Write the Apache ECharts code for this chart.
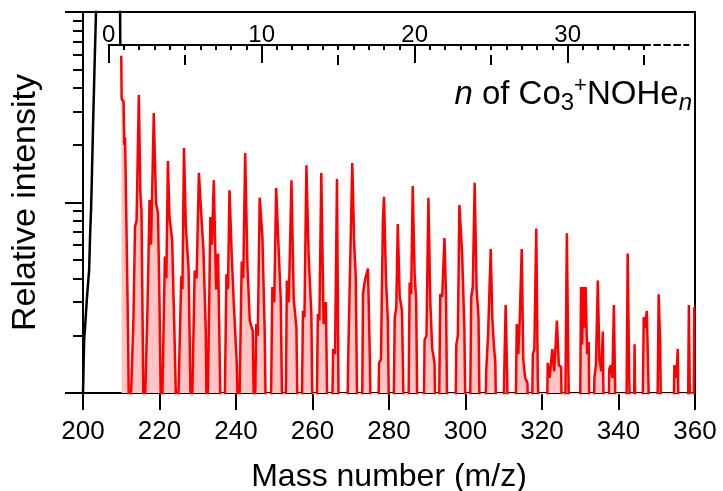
<!DOCTYPE html>
<html><head><meta charset="utf-8">
<script src="https://cdn.jsdelivr.net/npm/echarts@6/dist/echarts.min.js"></script>
<style>html,body{margin:0;padding:0;background:#fff}#c{width:723px;height:491px}</style>
</head><body><div id="c"></div>
<script>
// ---- data ----
const massRange = [200, 360];
const massTickStep = 20;
const intensityRange = [1, 100];
const intensityMajorTicks = [1, 10, 100];
const intensityMinorTicks = [2, 3, 4, 5, 6, 7, 8, 9, 20, 30, 40, 50, 60, 70, 80, 90];
const nRange = [0, 35];
const nMajorTicks = [0, 10, 20, 30];
const nMidTicks = [5, 15, 25, 35];
const nDashedEnd = 37.9;
const n0Mass = 206.7;   // Co3+NO
const heMass = 4;

// black part of the spectrum (m/z, intensity)
const blackSpectrum = [
  [200.0,1],[200.3,1.9],[200.6,2.3],[201.0,3.1],[201.3,3.7],[201.6,4.4],[201.9,7.2],[202.1,9.1],
  [202.3,13],[202.6,24],[203.0,50],[203.4,100],[203.6,200],[209.6,200],[209.75,68]
];
// red part of the spectrum (m/z, intensity)
const redSpectrum = [
  [210.0,59],[210.1,35],[210.6,34],[210.8,20],[211.0,22],[211.2,12],[211.5,5],[211.8,1.9],[212.1,0.5],
  [212.6,0.5],[213.2,2.5],[213.6,7.5],[214.0,8],[214.6,36.7],[215.0,11.2],[215.3,9],[215.6,2.2],[215.9,0.5],
  [216.4,0.5],[216.9,3],[217.4,10.3],[217.8,6],[218.5,29.5],[219.1,9.9],[219.6,8.8],[220.0,3],[220.5,0.5],
  [220.8,0.5],[221.4,5.2],[221.8,4],[222.2,16.5],[222.6,8.4],[223.3,6.4],[223.9,2.1],[224.6,0.5],
  [225.0,0.5],[225.7,4.1],[226.0,3.5],[226.4,19.3],[226.9,7.4],[227.6,4.5],[227.9,1.9],[228.3,0.5],
  [228.7,0.5],[229.2,4.4],[229.7,4],[230.3,14.3],[230.8,9.5],[231.5,5.6],[232.1,2.1],[232.4,0.5],
  [232.7,0.5],[233.0,3],[233.3,8.4],[233.7,6],[234.2,13.1],[234.8,3.5],[235.3,5.4],[235.8,1.3],[236.1,0.5],
  [236.9,0.5],[237.5,4.2],[237.9,3.5],[238.3,11.6],[238.9,5.2],[239.4,3.0],[240.2,1.44],[240.7,0.5],
  [241.0,0.5],[241.5,4.9],[241.9,4],[242.4,18.2],[243.0,4.6],[243.6,2.4],[244.4,2.1],[244.8,0.5],
  [245.0,0.5],[245.3,2.3],[245.7,2],[246.2,10.6],[246.9,6.6],[247.5,2.1],[247.9,0.5],
  [249.0,0.5],[249.5,3.6],[250.0,3],[250.5,11.9],[251.1,6.0],[251.7,3.1],[252.2,0.5],
  [252.9,0.5],[253.3,3.9],[253.8,3],[254.5,13.1],[255.1,3.1],[255.8,2.2],[256.2,0.5],
  [257.1,0.5],[257.5,2.7],[257.9,2.5],[258.4,15.7],[259.0,5.2],[259.7,2.6],[260.1,0.5],
  [261.0,0.5],[261.4,2.6],[261.8,2.4],[262.3,14.3],[262.9,2.3],[263.5,3.0],[264.0,0.5],
  [265.0,0.5],[265.4,1.7],[265.9,1.6],[266.4,13.3],[266.9,0.5],
  [269.0,0.5],[269.3,1.4],[269.8,1.4],[270.4,16.1],[270.9,6],[271.3,4.1],[271.8,0.5],
  [272.9,0.5],[273.2,3.3],[273.6,3.8],[274.1,4.2],[274.5,4.5],[275.0,1.5],[275.3,0.5],
  [277.1,0.5],[277.4,1.44],[277.9,1.5],[278.4,8],[278.7,10.7],[279.2,4],[279.7,2.4],[280.1,0.5],
  [281.1,0.5],[281.5,2.5],[281.9,2.8],[282.3,7.7],[282.8,3.2],[283.4,2.7],[284.0,0.5],
  [285.0,0.5],[285.4,3.8],[285.8,3.3],[286.2,12.2],[286.7,4.2],[287.1,3.1],[287.5,0.5],
  [289.0,0.5],[289.3,1.9],[289.8,2],[290.3,10.6],[290.8,3],[291.3,1.7],[291.9,1.45],[292.2,0.5],
  [293.0,0.5],[293.4,3.3],[293.9,3.2],[294.5,6.5],[294.9,3.3],[295.3,0.5],
  [297.3,0.5],[297.6,1.8],[298.0,2],[298.4,9.7],[299.1,5.5],[299.7,2.2],[300.1,0.5],
  [301.1,0.5],[301.5,3.2],[301.9,3.6],[302.4,12.7],[302.9,3.5],[303.4,2.5],[303.8,0.5],
  [305.1,0.5],[305.4,1.3],[305.9,2],[306.6,5.7],[307.0,2.5],[307.4,1.8],[307.8,1.45],[308.1,0.5],
  [309.8,0.5],[310.2,1.5],[310.5,2.9],[310.9,1.2],[311.2,0.5],
  [313.0,0.5],[313.4,2.3],[313.8,1.6],[314.2,2.5],[314.7,5.7],[315.1,1.5],[315.6,1.2],[316.2,1.13],[316.5,0.5],
  [317.3,0.5],[317.6,1.6],[318.0,1.7],[318.5,7.3],[318.9,1.2],[319.3,0.5],
  [321.2,0.5],[321.5,1.44],[322.0,1.2],[322.7,1.7],[323.2,1.3],[323.9,2.4],[324.4,1.4],[325.0,1.37],[325.3,0.5],
  [326.0,0.5],[326.2,1.5],[326.5,6.9],[326.9,1.3],[327.2,0.5],
  [329.9,0.5],[330.2,3.6],[330.5,1.8],[330.8,3.6],[331.1,2.2],[331.4,3.6],[331.8,1.6],[332.2,1.85],[332.5,0.5],
  [333.4,0.5],[333.7,1.2],[334.1,1.4],[334.6,3.9],[335.0,1.5],[335.5,1.3],[335.9,2.1],[336.2,0.5],
  [337.3,0.5],[337.6,1.34],[338.0,1.4],[338.4,1.2],[338.8,2.9],[339.2,0.8],[339.6,0.5],
  [342.0,0.5],[342.4,5.4],[342.8,1.2],[343.3,0.5],[344.0,0.5],[344.2,1.8],[344.5,0.5],
  [346.2,0.5],[346.6,2.5],[347.0,2.2],[347.4,2.7],[347.8,1.2],[348.2,0.5],
  [350.1,0.5],[350.5,3.3],[350.9,1.8],[351.2,0.5],
  [354.3,0.5],[354.6,1.4],[355.1,1.2],[355.5,1.7],[355.8,0.5],
  [358.1,0.5],[358.4,2.9],[358.8,0.5],[359.6,0.5],[359.8,2.8],[360,2.8]
];

// ---- layout ----
const FONT = '"Liberation Sans", Arial, sans-serif';
const W = 723, H = 491;
const GL = 83, GR = 28, GT = 12, GB = 98;
const ppm = (W - GL - GR) / (massRange[1] - massRange[0]);
const nAxisTop = 45;
const nLeft = GL + (n0Mass - massRange[0]) * ppm;
const nWidth = (nRange[1] - nRange[0]) * heMass * ppm;
const dashLeft = nLeft + nWidth;
const dashWidth = (nDashedEnd - nRange[1]) * heMass * ppm;

const black = { color: '#000', width: 2 };
const chart = echarts.init(document.getElementById('c'), null, { renderer: 'canvas' });

const txt = (extra) => Object.assign({ fontFamily: FONT, color: '#000', fontWeight: 'normal' }, extra);

chart.setOption({
  animation: false,
  backgroundColor: '#fff',
  textStyle: { fontFamily: FONT, color: '#000' },
  grid: [
    { left: GL, right: GR, top: GT, bottom: GB, show: true, borderColor: '#000', borderWidth: 2, backgroundColor: 'transparent', containLabel: false, outerBoundsMode: 'none' },
    { left: nLeft, width: nWidth, top: nAxisTop, height: 10, containLabel: false, outerBoundsMode: 'none' },
    { left: dashLeft, width: dashWidth, top: nAxisTop, height: 10, containLabel: false, outerBoundsMode: 'none' }
  ],
  xAxis: [
    { type: 'value', gridIndex: 0, min: massRange[0], max: massRange[1], interval: massTickStep, position: 'bottom',
      axisLine: { show: true, onZero: false, lineStyle: black },
      axisTick: { show: true, length: 17, lineStyle: black },
      axisLabel: { fontSize: 26, color: '#000', margin: 26, fontFamily: FONT, showMinLabel: true, showMaxLabel: true },
      splitLine: { show: false },
      name: 'Mass number (m/z)', nameLocation: 'middle', nameGap: 68,
      nameTextStyle: { fontSize: 32, color: '#000', fontFamily: FONT } },
    { type: 'value', gridIndex: 1, min: nRange[0], max: nRange[1], position: 'top',
      axisLine: { show: true, onZero: false, lineStyle: black },
      axisTick: { show: true, inside: true, length: 18, customValues: nMajorTicks, lineStyle: black },
      axisLabel: { show: true, customValues: nMajorTicks, fontSize: 24, color: '#000', margin: -2, fontFamily: FONT },
      splitLine: { show: false } },
    { type: 'value', gridIndex: 1, min: nRange[0], max: nRange[1], position: 'top',
      axisLine: { show: false },
      axisTick: { show: true, inside: true, length: 10, customValues: nMidTicks, lineStyle: black },
      axisLabel: { show: false }, splitLine: { show: false } },
    { type: 'value', gridIndex: 1, min: nRange[0], max: nRange[1], interval: 1, position: 'top',
      axisLine: { show: false },
      axisTick: { show: true, inside: true, length: 5, lineStyle: black },
      axisLabel: { show: false }, splitLine: { show: false } },
    { type: 'value', gridIndex: 2, min: nRange[1], max: nDashedEnd, position: 'top',
      axisLine: { show: true, onZero: false, lineStyle: { color: '#000', width: 2, type: [6, 4] } },
      axisTick: { show: false }, axisLabel: { show: false }, splitLine: { show: false } }
  ],
  yAxis: [
    { type: 'log', logBase: 10, gridIndex: 0, min: intensityRange[0], max: intensityRange[1], position: 'left',
      axisLine: { show: true, onZero: false, lineStyle: black },
      axisTick: { show: true, length: 18, customValues: intensityMajorTicks, lineStyle: black },
      axisLabel: { show: false }, splitLine: { show: false },
      name: 'Relative intensity', nameLocation: 'middle', nameGap: 40,
      nameTextStyle: { fontSize: 34, color: '#000', fontFamily: FONT } },
    { type: 'log', logBase: 10, gridIndex: 0, min: intensityRange[0], max: intensityRange[1], position: 'left',
      axisLine: { show: false },
      axisTick: { show: true, length: 10, customValues: intensityMinorTicks, lineStyle: black },
      axisLabel: { show: false }, splitLine: { show: false } },
    { type: 'value', gridIndex: 1, show: false, min: 0, max: 1 },
    { type: 'value', gridIndex: 2, show: false, min: 0, max: 1 }
  ],
  title: {
    text: '{i|n}{r| of Co}{sb|3}{sp|+}{r|NOHe}{isb|n}',
    right: 31, top: 75, padding: 0,
    textStyle: {
      fontWeight: 'normal',
      rich: {
        i:   txt({ fontSize: 33, fontStyle: 'italic', lineHeight: 40 }),
        r:   txt({ fontSize: 33, lineHeight: 40 }),
        sb:  txt({ fontSize: 24, lineHeight: 21, verticalAlign: 'bottom' }),
        sp:  txt({ fontSize: 22, lineHeight: 20, verticalAlign: 'top' }),
        isb: txt({ fontSize: 24, fontStyle: 'italic', lineHeight: 21, verticalAlign: 'bottom' })
      }
    }
  },
  series: [
    { type: 'line', xAxisIndex: 0, yAxisIndex: 0, data: blackSpectrum, showSymbol: false, symbol: 'none',
      clip: true, lineStyle: { color: '#000', width: 2.5 }, z: 3 },
    { type: 'line', xAxisIndex: 0, yAxisIndex: 0, data: redSpectrum, showSymbol: false, symbol: 'none',
      clip: true, lineStyle: { color: '#ff0000', width: 2.5 },
      areaStyle: { color: '#ffc4c4', opacity: 1, origin: 'start' }, z: 2 }
  ]
});
</script>
</body></html>
